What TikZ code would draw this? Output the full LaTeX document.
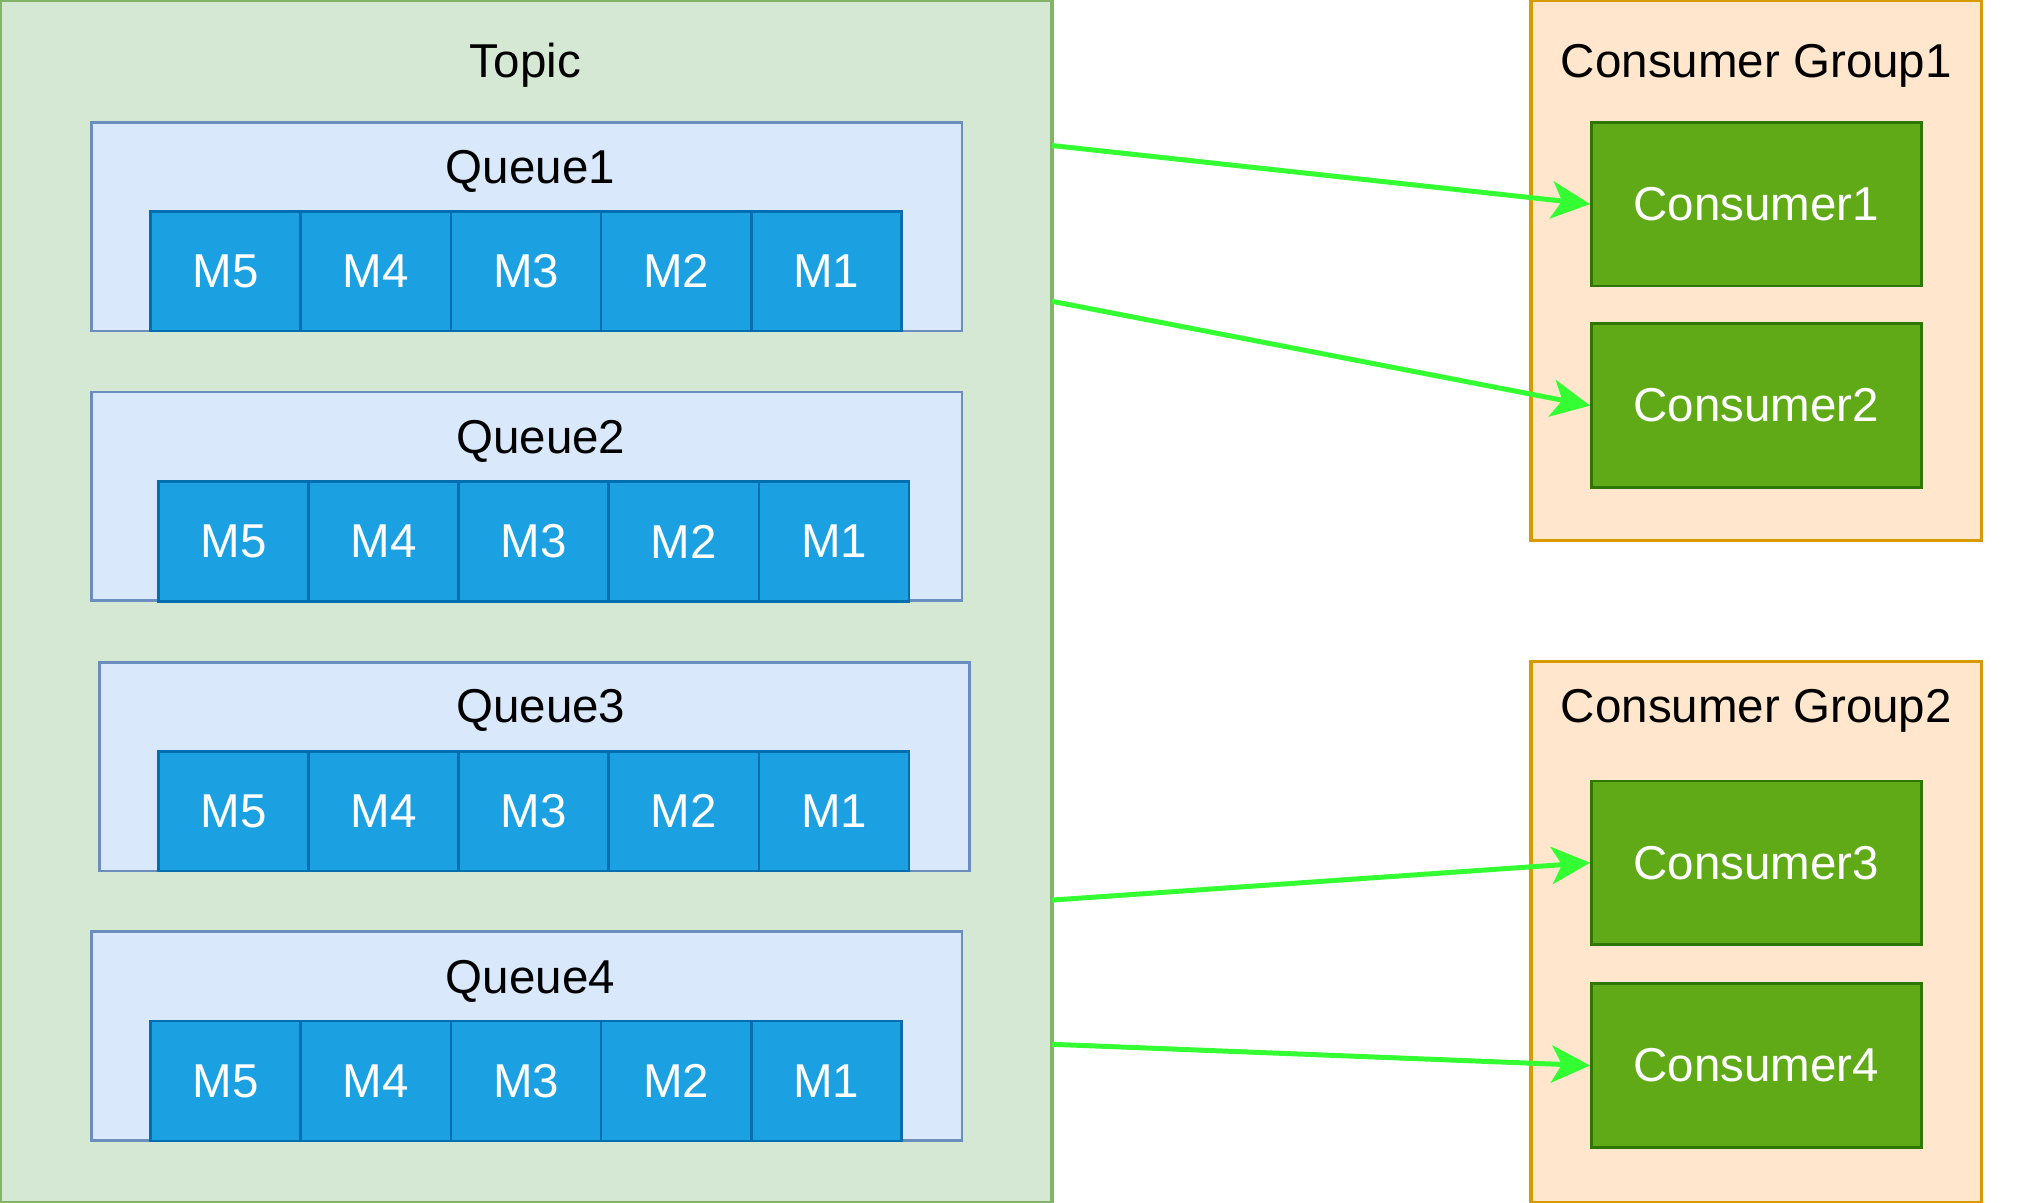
\documentclass[tikz,border=0pt]{standalone}
\usepackage{fontspec}
\setmainfont{Liberation Sans}
\usepackage{tikz}
\usetikzlibrary{arrows.meta,positioning}
\definecolor{topicfill}{HTML}{D5E8D4}
\definecolor{topicline}{HTML}{82B366}
\definecolor{queuefill}{HTML}{DAE8FC}
\definecolor{queueline}{HTML}{6C8EBF}
\definecolor{msgfill}{HTML}{1BA1E2}
\definecolor{msgline}{HTML}{006EAF}
\definecolor{groupfill}{HTML}{FFE6CC}
\definecolor{groupline}{HTML}{D79B00}
\definecolor{consfill}{HTML}{60A917}
\definecolor{consline}{HTML}{2D7600}
\definecolor{linkgreen}{HTML}{33FF33}

\begin{document}
\begin{tikzpicture}[
    every node/.style={font=\fontsize{10.5}{12.6}\selectfont, inner sep=0pt},
    topicbox/.style={draw=topicline, fill=topicfill, line width=0.7pt, minimum width=8.17cm, minimum height=9.34cm},
    queuebox/.style={draw=queueline, fill=queuefill, line width=0.6pt, minimum width=6.76cm, minimum height=1.62cm},
    msg/.style={draw=msgline, fill=msgfill, text=white, line width=0.6pt, minimum width=1.166cm, minimum height=0.93cm},
    groupbox/.style={draw=groupline, fill=groupfill, line width=0.7pt, minimum width=3.5cm, minimum height=4.2cm},
    consumer/.style={draw=consline, fill=consfill, text=white, line width=0.6pt, minimum width=2.56cm, minimum height=1.27cm},
    link/.style={draw=linkgreen, line width=1.1pt, -{Stealth[length=3mm, width=2.9mm, inset=0.8mm]}}
]
\useasboundingbox (0,0) rectangle (15.68,9.34);

% Topic 和四个队列
\node[topicbox] (topic) at (4.085,4.67) {};
\node (topictitle) at (4.08,8.83) {Topic};

\node[queuebox] (queue1) at (4.09,7.58) {};
\node[queuebox] (queue2) at (4.09,5.485) {};
\node[queuebox] (queue3) at (4.15,3.385) {};
\node[queuebox] (queue4) at (4.09,1.295) {};

\node (queue1title) at (4.12,8.01) {Queue1};
\node (queue2title) at (4.20,5.91) {Queue2};
\node (queue3title) at (4.20,3.82) {Queue3};
\node (queue4title) at (4.12,1.72) {Queue4};

% 队列中的消息
\node[msg] (q1m5) at (1.753,7.235) {M5};
\node[msg] (q1m4) at (2.919,7.235) {M4};
\node[msg] (q1m3) at (4.085,7.235) {M3};
\node[msg] (q1m2) at (5.251,7.235) {M2};
\node[msg] (q1m1) at (6.417,7.235) {M1};

\node[msg] (q2m5) at (1.813,5.135) {M5};
\node[msg] (q2m4) at (2.979,5.135) {M4};
\node[msg] (q2m3) at (4.145,5.135) {M3};
\node[msg] (q2m2) at (5.311,5.135) {M2};
\node[msg] (q2m1) at (6.477,5.135) {M1};

\node[msg] (q3m5) at (1.813,3.04) {M5};
\node[msg] (q3m4) at (2.979,3.04) {M4};
\node[msg] (q3m3) at (4.145,3.04) {M3};
\node[msg] (q3m2) at (5.311,3.04) {M2};
\node[msg] (q3m1) at (6.477,3.04) {M1};

\node[msg] (q4m5) at (1.753,0.945) {M5};
\node[msg] (q4m4) at (2.919,0.945) {M4};
\node[msg] (q4m3) at (4.085,0.945) {M3};
\node[msg] (q4m2) at (5.251,0.945) {M2};
\node[msg] (q4m1) at (6.417,0.945) {M1};

% 消费者组
\node[groupbox] (group1) at (13.64,7.24) {};
\node[groupbox] (group2) at (13.64,2.10) {};
\node (group1title) at (13.64,8.83) {Consumer Group1};
\node (group2title) at (13.64,3.82) {Consumer Group2};

\node[consumer] (consumer1) at (13.64,7.755) {Consumer1};
\node[consumer] (consumer2) at (13.64,6.19) {Consumer2};
\node[consumer] (consumer3) at (13.64,2.64) {Consumer3};
\node[consumer] (consumer4) at (13.64,1.065) {Consumer4};

% 连线起点（Topic 右边框上）
\coordinate (out1) at (8.17,8.21);
\coordinate (out2) at (8.17,7.00);
\coordinate (out3) at (8.17,2.35);
\coordinate (out4) at (8.17,1.23);

\draw[link] (out1) -- (consumer1.west);
\draw[link] (out2) -- (consumer2.west);
\draw[link] (out3) -- (consumer3.west);
\draw[link] (out4) -- (consumer4.west);

\end{tikzpicture}
\end{document}
